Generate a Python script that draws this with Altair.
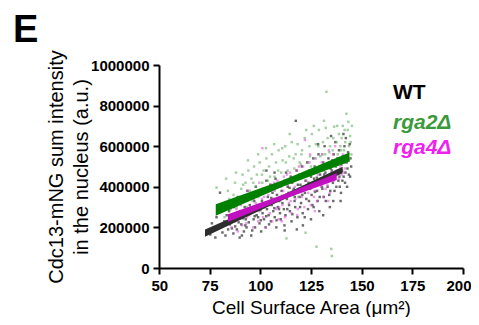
import altair as alt
import pandas as pd

# ---- data (y in thousands of a.u.) ----
wt_x = [75.3,76.1,77.8,78.4,79.2,80.1,80.7,81.3,82.2,82.8,83.4,84.1,84.6,85.0,85.5,86.2,86.7,87.1,87.6,88.0,88.4,88.9,89.3,89.8,90.2,90.6,91.1,91.5,91.9,92.3,92.8,93.2,93.6,94.0,94.3,94.8,95.1,95.5,95.9,96.3,96.7,97.0,97.4,97.8,98.2,98.5,98.9,99.3,99.6,100.0,100.4,100.8,101.1,101.5,101.8,102.2,102.6,103.0,103.3,103.7,104.1,104.5,104.9,105.2,105.6,106.0,106.4,106.7,107.1,107.5,107.9,108.2,108.6,109.0,109.4,109.7,110.1,110.5,110.9,111.2,111.6,112.0,112.4,112.7,113.1,113.5,113.9,114.2,114.6,115.0,115.4,115.7,116.1,116.5,116.9,117.2,117.5,117.9,118.3,118.7,119.0,119.4,119.8,120.1,120.5,120.9,121.2,121.6,122.0,122.3,122.7,123.1,123.5,123.8,124.2,124.6,125.0,125.3,125.7,126.1,126.5,126.8,127.2,127.6,128.0,128.3,128.7,129.1,129.5,129.8,130.2,130.6,131.0,131.3,131.7,132.1,132.5,132.8,133.2,133.6,134.0,134.3,134.7,135.1,135.5,135.8,136.2,136.6,137.0,137.3,137.7,138.1,138.5,138.8,139.2,139.6,140.0,140.3,140.7,141.1,141.5,141.8,142.2,142.6,143.0,143.3,143.7,144.1,144.5,144.8,
        86.0,88.7,90.9,92.6,94.6,96.0,97.2,98.7,100.2,101.3,102.9,104.3,105.4,106.9,108.0,109.2,110.7,111.9,113.3,114.4,115.8,117.0,118.5,119.6,120.7,121.9,122.5,123.3,124.0,125.5,126.3,127.0,127.9,129.3,130.4,131.5,132.3,133.4,134.5,135.3,136.0,136.8,137.5,138.3,139.0,139.8,140.5,141.3,142.0,142.8,143.5,144.3,118.0,121.0,125.0,112.0,131.0,128.5,134.9,141.0,107.0,103.0]
wt_y = [165,220,150,250,195,371,210,175,230,160,260,190,280,215,320,240,170,300,205,260,190,350,225,150,280,215,330,245,180,300,240,200,380,265,225,310,270,160,350,290,240,330,200,400,260,310,250,360,220,285,180,330,270,390,240,300,200,430,290,350,260,320,410,230,310,370,280,340,250,440,200,360,300,400,330,270,240,380,320,350,290,430,260,470,340,400,370,310,280,450,230,420,360,390,330,300,725,480,250,380,440,350,410,320,500,270,400,460,370,430,340,520,290,420,480,390,450,360,310,540,440,500,410,470,380,330,560,280,460,420,490,390,520,350,600,470,440,510,400,540,360,300,490,450,530,420,560,380,620,500,470,540,430,580,400,330,510,480,550,450,600,420,640,520,490,570,460,610,540,500,
        195,275,160,210,290,185,255,290,235,310,255,215,345,295,235,290,355,210,290,395,265,350,410,300,360,250,395,455,330,410,300,375,445,350,400,460,330,430,380,480,330,450,400,510,450,370,430,520,470,400,530,450,190,210,240,185,260,610,650,660,470,480]

rga2_x = [78.4,79.5,81.0,82.3,83.1,84.6,85.4,86.8,87.5,88.3,89.0,89.9,90.6,91.2,92.0,92.7,93.3,94.1,94.8,95.6,96.2,96.9,97.6,98.3,99.0,99.7,100.3,101.0,101.6,102.3,103.0,103.6,104.3,105.0,105.7,106.3,107.0,107.7,108.3,109.0,109.6,110.3,111.0,111.6,112.3,112.9,113.5,114.2,114.8,115.5,116.1,116.8,117.4,118.1,118.7,119.4,120.0,120.6,121.3,121.9,122.3,122.9,123.5,124.2,124.8,125.4,126.1,126.7,127.4,127.7,128.3,128.9,129.6,130.2,130.9,131.4,132.0,132.6,133.2,133.8,134.4,135.0,135.3,135.7,136.4,137.0,137.6,138.2,138.8,139.5,140.1,140.7,141.3,141.9,142.5,143.1,143.7,144.3,144.9,145.2,
          84.0,86.2,88.0,91.5,93.9,96.5,98.9,100.8,102.8,104.8,106.8,108.8,110.8,112.6,114.5,116.5,118.4,120.3,122.6,124.5,126.4,128.6,130.5,132.3,134.1,136.0,137.9,139.8,141.6,143.4,144.6,119.0,125.0,131.0,137.0]
rga2_y = [396,280,310,250,440,340,290,360,420,300,250,330,390,460,350,420,300,480,380,440,330,500,400,460,350,520,290,420,480,370,540,430,500,380,560,320,450,520,400,580,350,470,530,420,600,146,480,550,430,620,380,490,560,440,350,520,510,580,460,640,174,400,520,600,470,660,420,540,610,105,480,680,550,500,620,725,560,868,640,520,600,94,59,580,696,530,620,560,660,600,640,700,580,620,760,680,600,650,560,700,
          380,310,470,410,530,420,560,460,590,450,610,480,590,520,660,540,610,560,680,550,700,600,560,690,570,640,700,580,680,720,620,460,500,480,500]

rga4_x = [85.8,86.6,87.5,88.2,88.9,89.7,90.4,91.0,91.8,92.5,93.1,93.8,94.5,95.1,95.8,96.4,97.0,97.7,98.3,98.9,99.5,100.2,100.8,101.0,101.4,102.1,102.7,103.3,104.0,104.6,105.2,105.9,106.5,107.1,107.8,108.4,109.0,109.7,110.3,110.9,111.6,112.2,112.8,113.5,114.1,114.7,115.4,116.0,116.6,117.3,117.9,118.5,119.2,119.8,120.4,121.1,121.7,122.0,122.5,123.0,123.6,124.3,124.9,125.5,126.2,126.8,127.4,128.1,128.7,129.3,130.0,130.6,131.2,131.9,132.5,133.1,133.8,134.4,135.0,135.7,136.3,136.9,137.6,138.2,138.8,139.5,140.1,140.8,141.4,142.0,
          90.0,93.5,96.8,99.2,101.9,104.4,106.8,109.3,111.3,113.2,115.0,117.0,119.0,120.9,122.8,124.6,126.5,128.4,130.3,132.2,134.1,136.0,137.9,139.8,141.7,143.0,118.2,126.9,133.5,110.5]
rga4_y = [200,260,230,290,180,250,310,210,270,330,220,380,260,300,350,200,280,320,370,230,420,300,340,590,250,390,200,310,360,270,410,230,330,380,290,430,240,340,400,310,450,250,360,410,320,470,270,380,430,340,480,290,390,440,350,500,300,630,400,460,370,520,310,420,470,380,540,330,430,490,400,560,350,450,500,410,580,370,470,520,430,600,480,540,440,500,460,560,470,520,
          280,250,340,280,350,310,420,300,380,460,330,400,500,380,430,560,350,460,520,390,450,560,470,520,490,540,260,280,330,230]

# regression bands: x, centre, half-width (thousands)
wt_fit_x = [72.7, 106.6, 140.6]
wt_fit_c = [172, 327, 483]
wt_fit_h = [18, 12, 16]
rga2_fit_x = [78, 111, 144]
rga2_fit_c = [286, 416, 547]
rga2_fit_h = [28, 16, 22]
rga4_fit_x = [84, 110.85, 137.7]
rga4_fit_c = [246, 348, 450]
rga4_fit_h = [19, 12, 17]

series = ["WT", "rga2Δ", "rga4Δ"]
point_colors = ["#3a3a3a", "#5aaa5a", "#d84ed8"]
point_opacity = [0.75, 0.55, 0.55]
band_colors = ["#2e2e2e", "#008000", "#c010c0"]
label_colors = ["#000000", "#3a9a3a", "#f020f0"]

FONT = "Liberation Sans"

x_scale = alt.Scale(domain=[50, 200], nice=False, zero=False)
y_scale = alt.Scale(domain=[0, 1000000], nice=False)

x_axis = alt.Axis(values=[50, 75, 100, 125, 150, 175, 200], title="Cell Surface Area (μm²)",
                  grid=False)
y_axis = alt.Axis(values=[0, 200000, 400000, 600000, 800000, 1000000], format="d",
                  title=["Cdc13-mNG sum intensity", "in the nucleus (a.u.)"], grid=False)

pts_data = [(wt_x, wt_y), (rga2_x, rga2_y), (rga4_x, rga4_y)]
fit_data = [(wt_fit_x, wt_fit_c, wt_fit_h), (rga2_fit_x, rga2_fit_c, rga2_fit_h),
            (rga4_fit_x, rga4_fit_c, rga4_fit_h)]

layers = []
for i, (xs, ys) in enumerate(pts_data):
    df = pd.DataFrame({"x": xs, "y": [v * 1000 for v in ys]})
    layers.append(
        alt.Chart(df).mark_square(size=6, color=point_colors[i], opacity=point_opacity[i]).encode(
            x=alt.X("x:Q", scale=x_scale, axis=x_axis),
            y=alt.Y("y:Q", scale=y_scale, axis=y_axis),
        )
    )

for i, (fx, fc, fh) in enumerate(fit_data):
    df = pd.DataFrame({"x": fx,
                       "lo": [(c - h) * 1000 for c, h in zip(fc, fh)],
                       "hi": [(c + h) * 1000 for c, h in zip(fc, fh)]})
    layers.append(
        alt.Chart(df).mark_area(color=band_colors[i], opacity=1).encode(
            x=alt.X("x:Q", scale=x_scale, axis=x_axis),
            y=alt.Y("lo:Q", scale=y_scale, axis=y_axis),
            y2="hi:Q",
        )
    )

# legend-like labels
leg_y = [34, 64, 89]
for i, name in enumerate(series):
    df = pd.DataFrame({"t": [name]})
    layers.append(
        alt.Chart(df).mark_text(align="left", baseline="alphabetic", font=FONT, fontSize=21,
                                fontWeight="bold", fontStyle="normal" if i == 0 else "italic",
                                color=label_colors[i]).encode(
            text="t:N", x=alt.value(234), y=alt.value(leg_y[i]))
    )

# panel letter
layers.append(
    alt.Chart(pd.DataFrame({"t": ["E"]})).mark_text(
        align="left", baseline="alphabetic", font=FONT, fontSize=38, fontWeight="bold",
        color="black").encode(text="t:N", x=alt.value(-146), y=alt.value(-23))
)

chart = alt.layer(*layers).properties(
    width=304, height=203,
    autosize=alt.AutoSizeParams(type="none"),
    padding={"left": 151, "top": 57, "right": 8, "bottom": 49},
).configure_view(stroke=None).configure_axis(
    domainColor="black", domainWidth=2, tickColor="black", tickWidth=2, tickSize=6,
    labelFont=FONT, labelFontSize=15, labelFontWeight="bold", labelColor="black",
    titleFont=FONT, titleFontWeight="normal", titleColor="black",
).configure_axisX(labelPadding=4, titlePadding=5, labelFlush=True, labelFlushOffset=8,
                  titleFontSize=19
).configure_axisY(labelPadding=4, titlePadding=-1, titleLineHeight=25, titleFontSize=20)

chart.save("out.html", embed_options={"renderer": "svg", "actions": False})
